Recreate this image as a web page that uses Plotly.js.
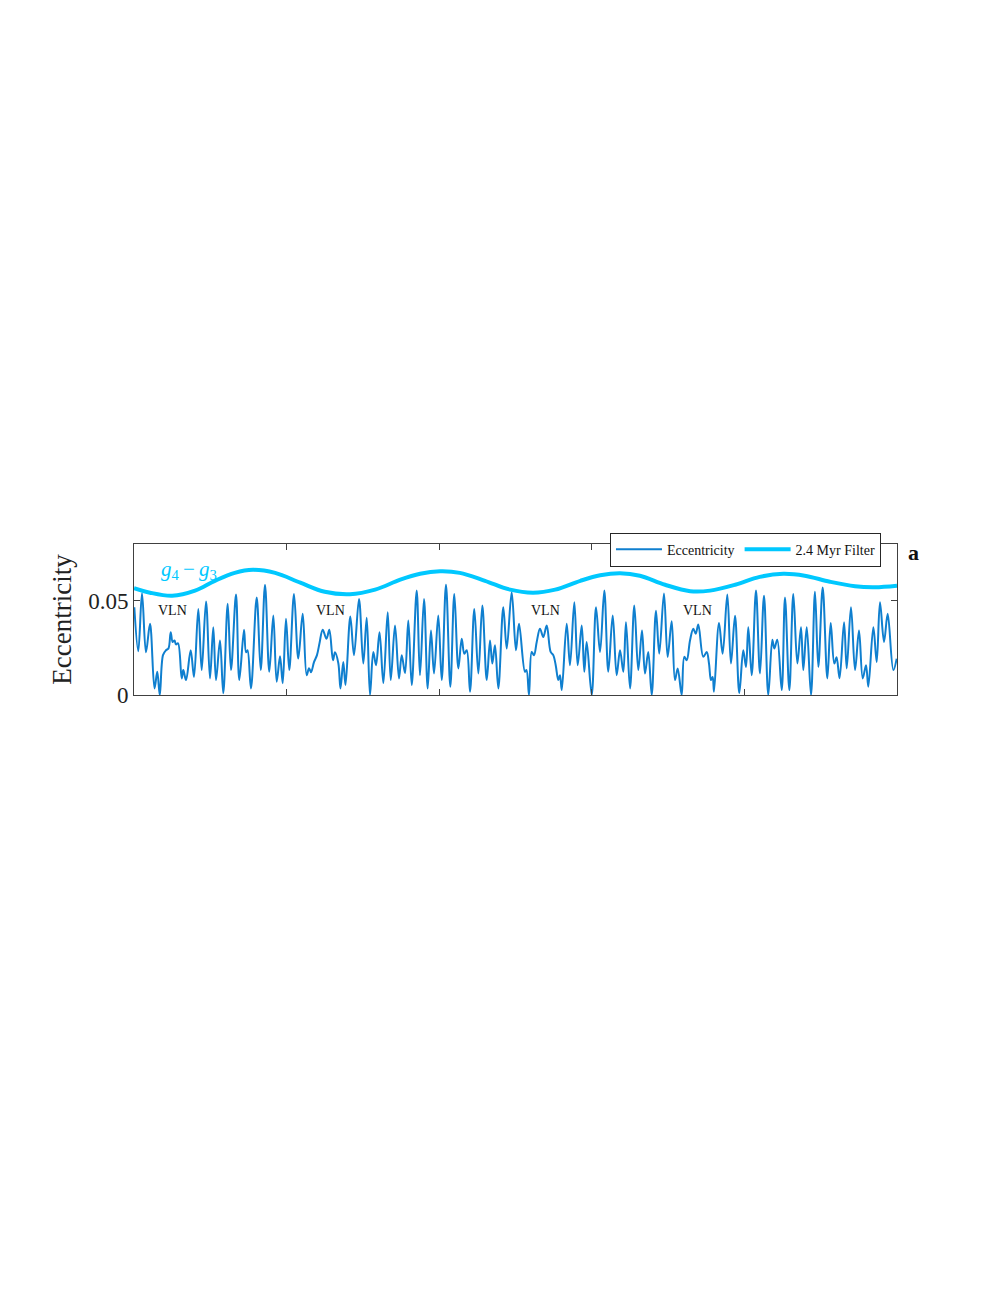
<!DOCTYPE html>
<html>
<head>
<meta charset="utf-8">
<script src="https://cdn.plot.ly/plotly-3.0.1.min.js"></script>
<style>html,body{margin:0;padding:0;background:#fff;}#chart{width:997px;height:1290px;}</style>
</head>
<body>
<div id="chart"></div>
<script>
// Time axis (arbitrary Myr units, no labels shown) and eccentricity extrema
const eccX = [0.004,0.056,0.105,0.157,0.210,0.269,0.305,0.338,0.380,0.419,0.452,0.481,0.507,0.531,0.550,0.577,0.625,0.646,0.682,0.743,0.786,0.843,0.887,0.944,0.996,1.039,1.075,1.127,1.170,1.228,1.271,1.337,1.380,1.442,1.468,1.488,1.533,1.608,1.661,1.717,1.773,1.826,1.870,1.914,1.949,1.992,2.035,2.097,2.153,2.211,2.263,2.294,2.320,2.359,2.398,2.431,2.473,2.523,2.560,2.608,2.634,2.678,2.706,2.743,2.772,2.835,2.883,2.949,3.005,3.050,3.093,3.136,3.172,3.218,3.268,3.325,3.365,3.421,3.473,3.509,3.552,3.595,3.640,3.705,3.748,3.801,3.849,3.892,3.932,3.988,4.033,4.089,4.146,4.198,4.251,4.295,4.329,4.361,4.404,4.460,4.513,4.565,4.623,4.666,4.696,4.731,4.775,4.840,4.885,4.950,5.006,5.046,5.124,5.144,5.177,5.212,5.242,5.278,5.321,5.364,5.409,5.461,5.495,5.527,5.561,5.583,5.606,5.671,5.714,5.771,5.815,5.868,5.902,5.933,5.999,6.055,6.108,6.164,6.216,6.274,6.326,6.370,6.413,6.448,6.501,6.557,6.609,6.658,6.697,6.740,6.785,6.841,6.884,6.946,6.994,7.047,7.090,7.126,7.178,7.212,7.244,7.287,7.330,7.362,7.396,7.461,7.506,7.536,7.562,7.584,7.601,7.667,7.715,7.776,7.824,7.877,7.933,7.985,8.021,8.051,8.096,8.152,8.204,8.257,8.313,8.366,8.392,8.431,8.489,8.532,8.589,8.641,8.694,8.742,8.772,8.817,8.873,8.925,8.969,9.026,9.087,9.131,9.178,9.208,9.247,9.306,9.341,9.397,9.450,9.502,9.551,9.594,9.624,9.690,9.734,9.777,9.830,9.878,9.952,9.996];
const eccY = [0.0465,0.0232,0.0539,0.0226,0.0377,0.0035,0.0123,0.0,0.0211,0.0237,0.0247,0.0333,0.0281,0.0289,0.0268,0.0274,0.0088,0.0132,0.0079,0.0237,0.0096,0.0456,0.0132,0.0496,0.0088,0.0359,0.0079,0.0289,0.0009,0.0483,0.0132,0.0532,0.0079,0.0346,0.0226,0.0237,0.0035,0.0517,0.0132,0.0584,0.0123,0.0421,0.0070,0.0205,0.0062,0.0404,0.0132,0.0535,0.0193,0.0430,0.0105,0.0142,0.0121,0.0174,0.0211,0.0274,0.0346,0.0298,0.0346,0.0184,0.0226,0.0168,0.0035,0.0175,0.0053,0.0416,0.0211,0.0509,0.0167,0.0409,0.0,0.0228,0.0158,0.0332,0.0063,0.0438,0.0079,0.0368,0.0088,0.0211,0.0116,0.0395,0.0053,0.0553,0.0105,0.0509,0.0035,0.0342,0.0114,0.0421,0.0079,0.0584,0.0044,0.0535,0.0141,0.0298,0.0219,0.0237,0.0017,0.0456,0.0114,0.0474,0.0079,0.0289,0.0167,0.0263,0.0035,0.0465,0.0246,0.0544,0.0237,0.0377,0.0123,0.0132,0.0,0.0228,0.0211,0.0281,0.0351,0.0307,0.0368,0.0228,0.0211,0.0158,0.0079,0.0105,0.0026,0.0377,0.0158,0.0491,0.0158,0.0368,0.0123,0.0281,0.0,0.0465,0.0228,0.0553,0.0123,0.0421,0.0105,0.0237,0.0123,0.0386,0.0035,0.0474,0.0132,0.0342,0.0114,0.0228,0.0,0.0447,0.0219,0.0538,0.0202,0.0391,0.0079,0.0141,0.0,0.0202,0.0184,0.0289,0.0351,0.0325,0.0374,0.0202,0.0228,0.0167,0.0079,0.0096,0.0017,0.0381,0.0219,0.0532,0.0167,0.0420,0.0010,0.0237,0.0149,0.0359,0.0105,0.0553,0.0114,0.0526,0.0,0.0293,0.0246,0.0293,0.0026,0.0517,0.0026,0.0535,0.0167,0.0359,0.0132,0.0359,0.0,0.0547,0.0149,0.0570,0.0088,0.0381,0.0167,0.0200,0.0089,0.0386,0.0141,0.0465,0.0132,0.0342,0.0088,0.0158,0.0044,0.0359,0.0175,0.0491,0.0281,0.0430,0.0132,0.0193];

// 2.4 Myr filtered envelope (g4 - g3)
const filtX = [0,0.21,0.50,0.80,1.06,1.32,1.56,1.85,2.18,2.50,2.83,3.16,3.49,3.75,4.01,4.27,4.60,4.93,5.23,5.52,5.85,6.11,6.37,6.63,6.96,7.29,7.55,7.88,8.20,8.51,8.79,9.12,9.45,9.71,10.0];
const filtY = [0.0566,0.0542,0.0526,0.0553,0.0605,0.0647,0.0663,0.0647,0.0595,0.0547,0.0534,0.0558,0.0611,0.0642,0.0655,0.0647,0.0605,0.0558,0.0542,0.0558,0.0605,0.0634,0.0645,0.0632,0.0584,0.0550,0.0553,0.0584,0.0626,0.0642,0.0632,0.0600,0.0576,0.0571,0.0579];

const xTickVals = [2,4,6,8];
const yTickVals = [0,0.05];
const yTickText = ['0','0.05'];
const vlnX = [0.51,2.57,5.39,7.39];
const vlnLabel = 'VLN';

const serif = 'Liberation Serif, Times New Roman, serif';
const axisColor = '#404040';

const traces = [
  {x: eccX, y: eccY, type: 'scatter', mode: 'lines', name: 'Eccentricity',
   line: {color: '#0F7FCF', width: 2, shape: 'spline', smoothing: 1}},
  {x: filtX, y: filtY, type: 'scatter', mode: 'lines', name: '2.4 Myr Filter',
   line: {color: '#00C8FF', width: 4, shape: 'spline', smoothing: 1}}
];

const annotations = vlnX.map(x => ({
  x: x, y: 0.0447, xref: 'x', yref: 'y', text: vlnLabel, showarrow: false,
  yanchor: 'middle',
  font: {family: serif, size: 14, color: '#111'}
}));
annotations.push({
  x: 0.72, y: 0.0660, xref: 'x', yref: 'y', showarrow: false, yanchor: 'middle',
  text: '<i>g</i><sub>4</sub>\u2009\u2212\u2009<i>g</i><sub>3</sub>',
  font: {family: serif, size: 21, color: '#00C8FF'}
});
annotations.push({
  x: 1.012, y: 0.947, xref: 'paper', yref: 'paper', showarrow: false,
  xanchor: 'left', yanchor: 'middle', text: '<b>a</b>',
  font: {family: serif, size: 22, color: '#111'}
});

const layout = {
  width: 997, height: 1290,
  margin: {l: 134, r: 100, t: 544, b: 595},
  paper_bgcolor: '#fff', plot_bgcolor: '#fff',
  showlegend: true,
  legend: {
    orientation: 'h', x: 0.979, xanchor: 'right', y: 1.075, yanchor: 'top',
    bgcolor: '#fff', bordercolor: '#262626', borderwidth: 1, itemwidth: 46,
    font: {family: serif, size: 14, color: '#111'}
  },
  xaxis: {
    range: [0, 10], tickvals: xTickVals, showticklabels: false,
    ticks: 'inside', ticklen: 6, tickcolor: axisColor, tickwidth: 1,
    showline: true, linecolor: axisColor, linewidth: 1, mirror: 'ticks',
    showgrid: false, zeroline: false
  },
  yaxis: {
    range: [0, 0.08], tickvals: yTickVals, ticktext: yTickText,
    ticks: 'inside', ticklen: 6, tickcolor: axisColor, tickwidth: 1,
    showline: true, linecolor: axisColor, linewidth: 1, mirror: 'ticks',
    showgrid: false, zeroline: false,
    tickfont: {family: serif, size: 23, color: '#222'},
    title: {text: 'Eccentricity', font: {family: serif, size: 27, color: '#222'}, standoff: 8}
  },
  annotations: annotations
};

Plotly.newPlot('chart', traces, layout, {displayModeBar: false, staticPlot: true});
</script>
</body>
</html>
